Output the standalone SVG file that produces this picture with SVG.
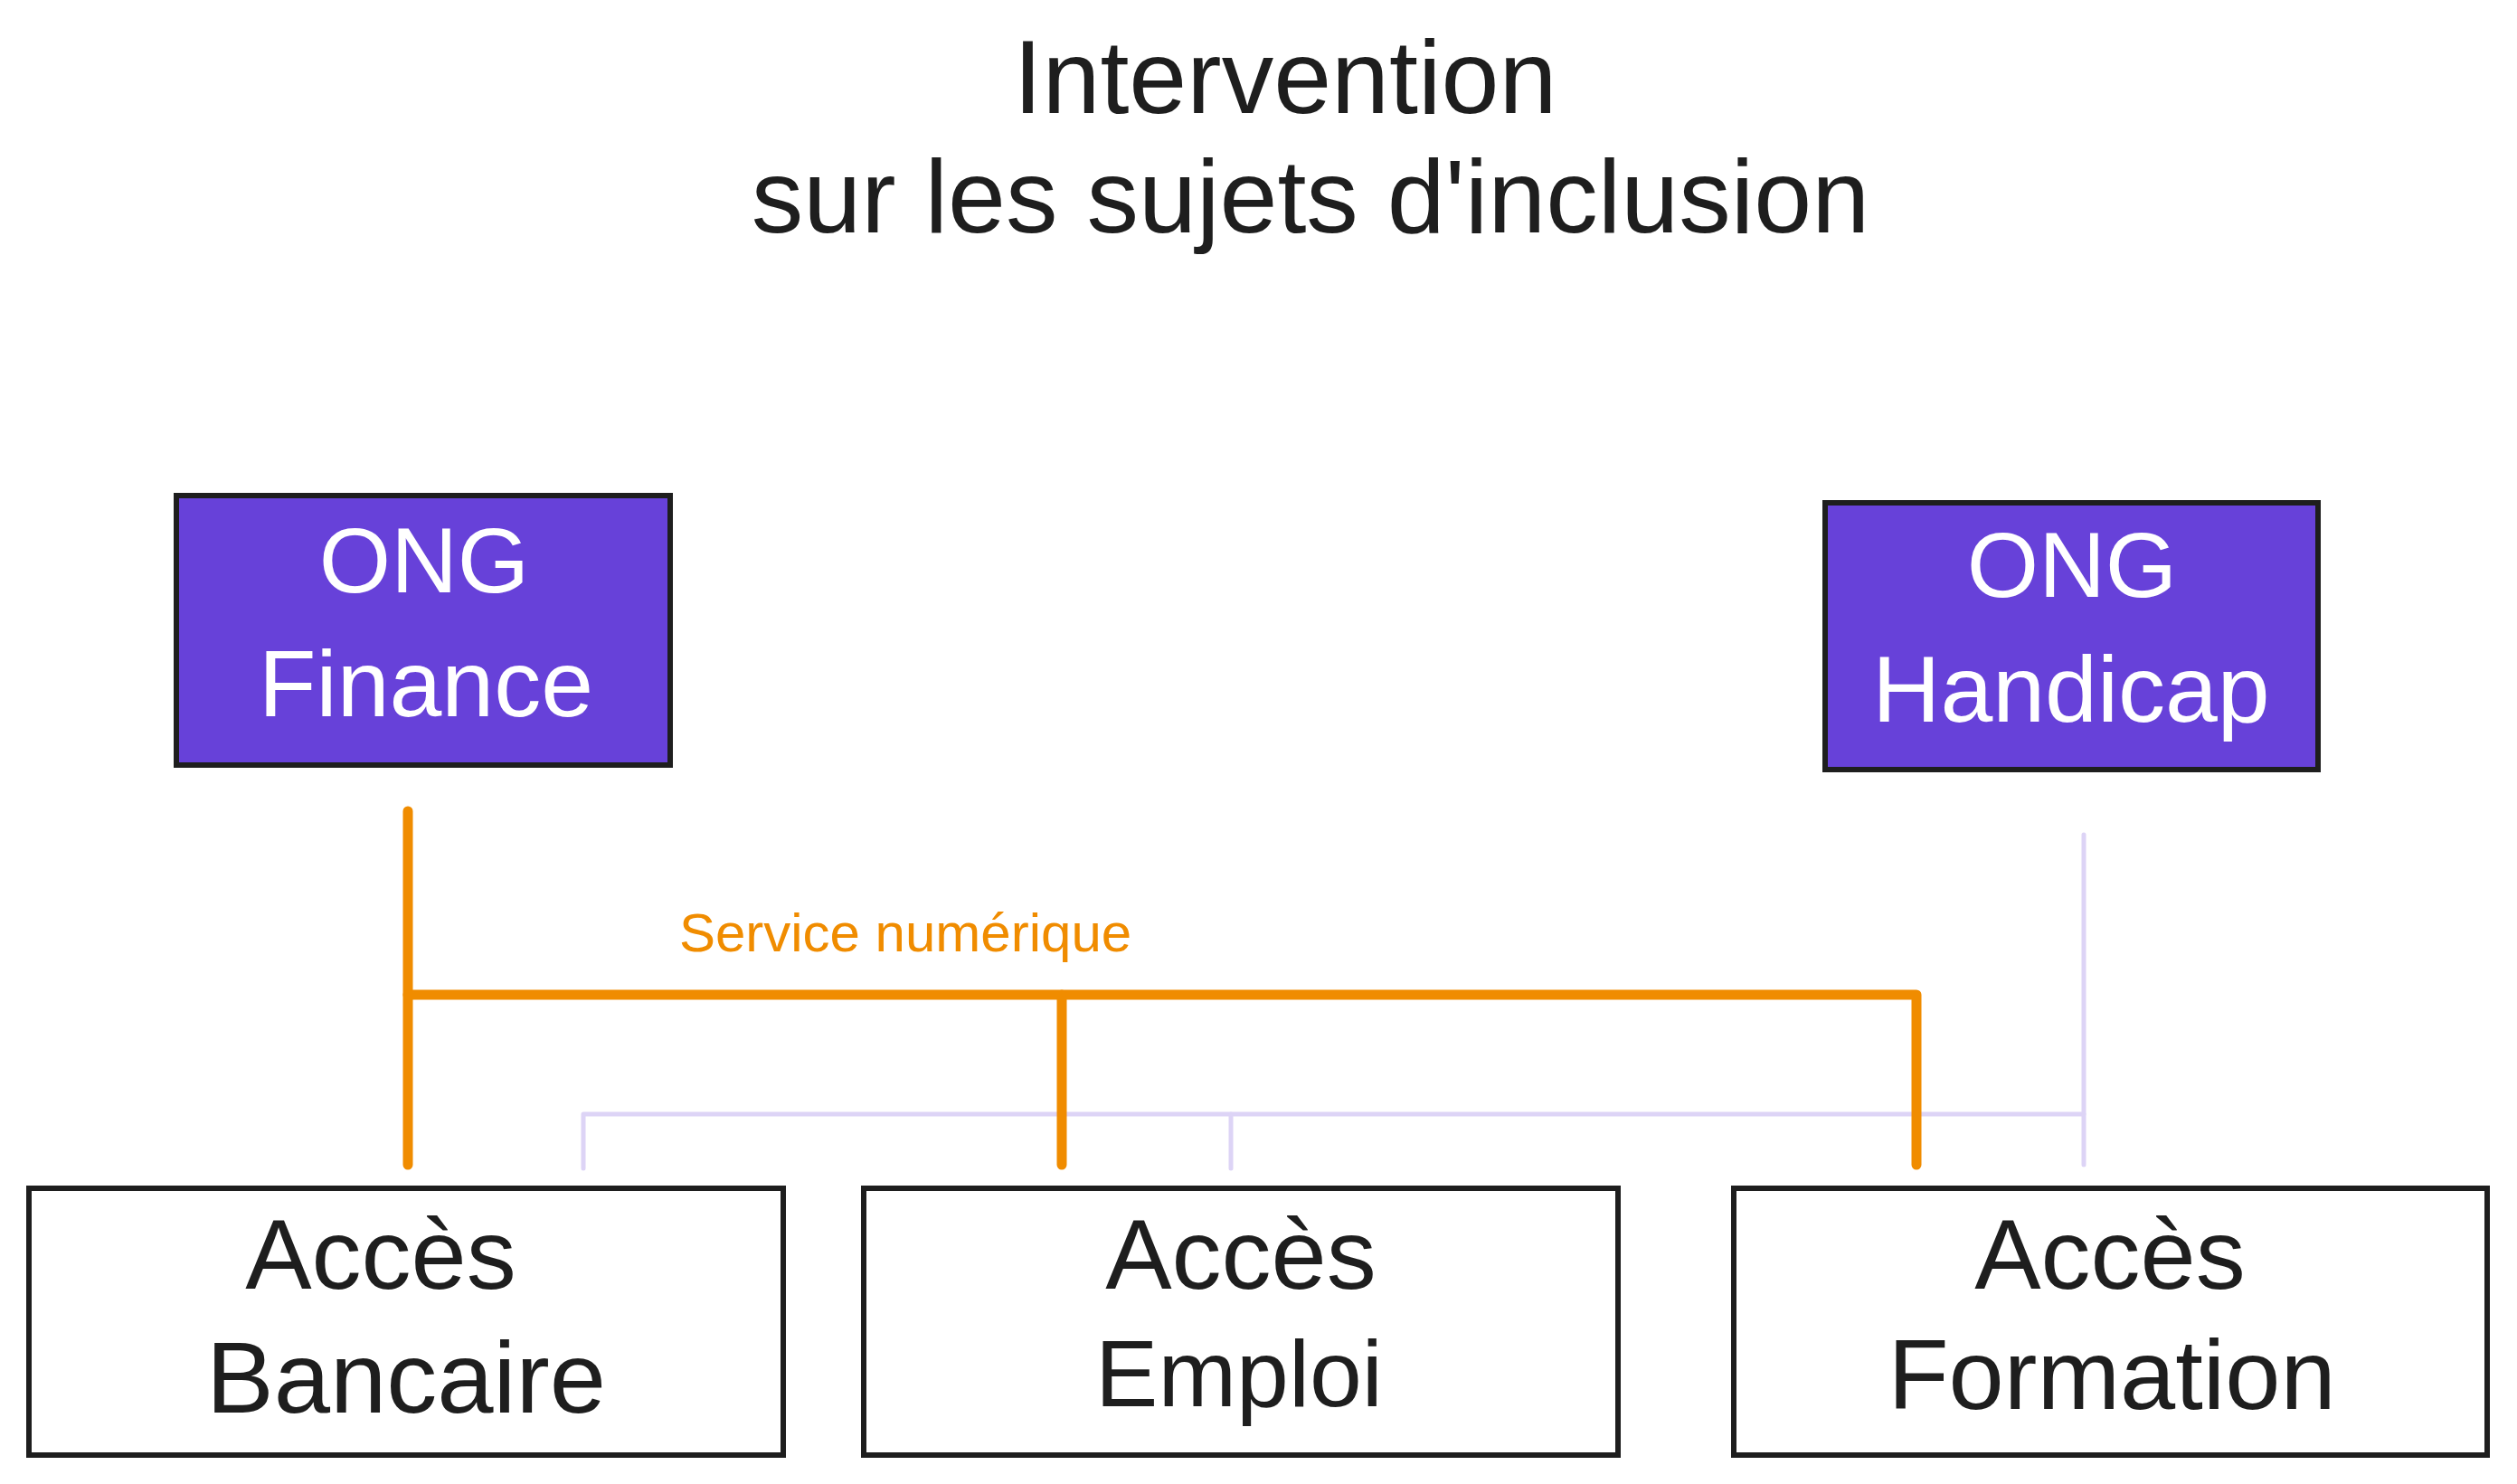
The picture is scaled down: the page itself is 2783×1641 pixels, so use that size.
<svg xmlns="http://www.w3.org/2000/svg" width="2783" height="1641" viewBox="0 0 2783 1641">
<style>
.box{fill:#ffffff;stroke:#1e1e1e;stroke-width:6}
.org{fill:#6741d9;stroke:#1e1e1e;stroke-width:6}
.t{font-family:"Liberation Sans",Arial,sans-serif;text-anchor:middle;fill:#1e1e1e}
.w{fill:#ffffff}
.o{stroke:#f08c00;stroke-width:11;fill:none;stroke-linecap:round;stroke-linejoin:round}
.l{stroke:#ddd4f6;stroke-width:5;fill:none;stroke-linecap:round;stroke-linejoin:round}
</style>
<rect width="2783" height="1641" fill="#ffffff"/>
<g id="title">
<text class="t" x="1421" y="125" font-size="115">Intervention</text>
<text class="t" x="1449" y="257" font-size="115">sur les sujets d'inclusion</text>
</g>
<g id="connectors">
<path class="l" d="M645 1292 V1232 H2304"/>
<path class="l" d="M2304 923 V1288"/>
<path class="l" d="M1361 1232 V1292"/>
<path class="o" d="M451 897 V1288"/>
<path class="o" d="M451 1100 H2119 V1288"/>
<path class="o" d="M1174 1100 V1288"/>
<text class="t" x="1001" y="1052" font-size="60" fill="#f08c00" style="fill:#f08c00">Service numérique</text>
</g>
<g id="ong-finance">
<rect class="org" x="195" y="548" width="546" height="298"/>
<text class="t w" x="469" y="655" font-size="102">ONG</text>
<text class="t w" x="471" y="792" font-size="104">Finance</text>
</g>
<g id="ong-handicap">
<rect class="org" x="2018" y="556" width="545" height="295"/>
<text class="t w" x="2291" y="660" font-size="102">ONG</text>
<text class="t w" x="2290" y="798" font-size="104">Handicap</text>
</g>
<g id="acces-bancaire">
<rect class="box" x="32" y="1314" width="834" height="295"/>
<text class="t" x="421" y="1425" font-size="110">Accès</text>
<text class="t" x="449" y="1562" font-size="112">Bancaire</text>
</g>
<g id="acces-emploi">
<rect class="box" x="955" y="1314" width="834" height="295"/>
<text class="t" x="1372" y="1425" font-size="110">Accès</text>
<text class="t" x="1370" y="1555" font-size="104">Emploi</text>
</g>
<g id="acces-formation">
<rect class="box" x="1917" y="1314" width="833" height="295"/>
<text class="t" x="2333" y="1425" font-size="110">Accès</text>
<text class="t" x="2335" y="1558" font-size="110">Formation</text>
</g>
</svg>
